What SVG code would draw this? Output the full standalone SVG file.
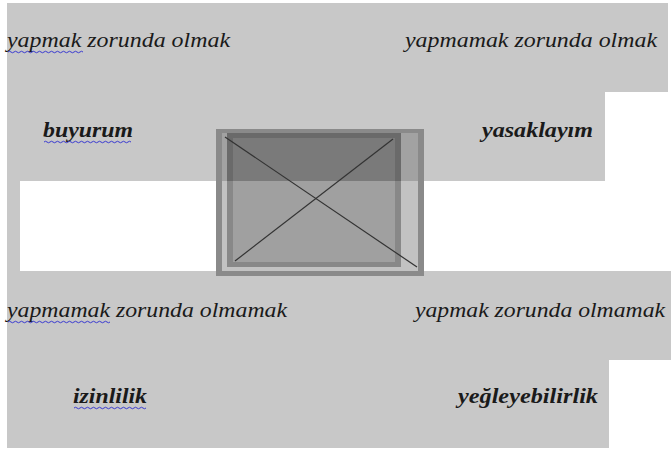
<svg xmlns="http://www.w3.org/2000/svg" width="671" height="451" viewBox="0 0 671 451">
<style>
.sq{fill:none;stroke:#3a3ad0;stroke-width:1}
</style>
<rect x="0" y="0" width="671" height="451" fill="#ffffff"/>
<path id="background" d="M7,3 H668 V92 H605 V181 H20 V271 H671 V360 H609 V448 H7 Z" fill="#c8c8c8"/>
<g id="image-placeholder">
  <rect x="216" y="129" width="208" height="147" fill="#8a8a8a"/>
  <rect x="222" y="133" width="196" height="48" fill="#a2a2a2"/>
  <rect x="222" y="181" width="196" height="90" fill="#c2c2c2"/>
  <rect x="227" y="133" width="174" height="48" fill="#6a6a6a"/>
  <rect x="227" y="181" width="174" height="86" fill="#888888"/>
  <rect x="233" y="138" width="162" height="43" fill="#7a7a7a"/>
  <rect x="233" y="181" width="162" height="81" fill="#a0a0a0"/>
  <line x1="225" y1="137" x2="417" y2="267" stroke="#333" stroke-width="1.2"/>
  <line x1="235" y1="261" x2="393" y2="139" stroke="#333" stroke-width="1.2"/>
</g>
<g id="connectors"></g>
<g font-family="Liberation Serif, serif" font-style="italic" fill="#1a1a1a">
<g font-size="22">
<g id="n1"><text x="7" y="47" textLength="223" lengthAdjust="spacingAndGlyphs">yapmak zorunda olmak</text></g>
<g id="n2"><text x="405" y="47" textLength="252" lengthAdjust="spacingAndGlyphs">yapmamak zorunda olmak</text></g>
<g id="n5"><text x="7" y="317" textLength="280" lengthAdjust="spacingAndGlyphs">yapmamak zorunda olmamak</text></g>
<g id="n6"><text x="415" y="317" textLength="250" lengthAdjust="spacingAndGlyphs">yapmak zorunda olmamak</text></g>
</g>
<g font-size="21" font-weight="bold">
<g id="n3"><text x="43" y="137" textLength="90" lengthAdjust="spacingAndGlyphs">buyurum</text></g>
<g id="n4"><text x="482" y="137" textLength="111" lengthAdjust="spacingAndGlyphs">yasaklayım</text></g>
<g id="n7"><text x="73" y="403" textLength="74" lengthAdjust="spacingAndGlyphs">izinlilik</text></g>
<g id="n8"><text x="458" y="403" textLength="140" lengthAdjust="spacingAndGlyphs">yeğleyebilirlik</text></g>
</g>
</g>
<g id="spellcheck-marks">
<path class="sq" d="M8,52 q1.5,-1.5 3,0 t3,0 t3,0 t3,0 t3,0 t3,0 t3,0 t3,0 t3,0 t3,0 t3,0 t3,0 t3,0 t3,0 t3,0 t3,0 t3,0 t3,0 t3,0 t3,0 t3,0 t3,0 t3,0 t3,0 t3,0"/>
<path class="sq" d="M44,142 q1.5,-1.5 3,0 t3,0 t3,0 t3,0 t3,0 t3,0 t3,0 t3,0 t3,0 t3,0 t3,0 t3,0 t3,0 t3,0 t3,0 t3,0 t3,0 t3,0 t3,0 t3,0 t3,0 t3,0 t3,0 t3,0 t3,0 t3,0 t3,0 t3,0 t3,0"/>
<path class="sq" d="M8,322 q1.5,-1.5 3,0 t3,0 t3,0 t3,0 t3,0 t3,0 t3,0 t3,0 t3,0 t3,0 t3,0 t3,0 t3,0 t3,0 t3,0 t3,0 t3,0 t3,0 t3,0 t3,0 t3,0 t3,0 t3,0 t3,0 t3,0 t3,0 t3,0 t3,0 t3,0 t3,0 t3,0 t3,0 t3,0 t3,0"/>
<path class="sq" d="M74,408 q1.5,-1.5 3,0 t3,0 t3,0 t3,0 t3,0 t3,0 t3,0 t3,0 t3,0 t3,0 t3,0 t3,0 t3,0 t3,0 t3,0 t3,0 t3,0 t3,0 t3,0 t3,0 t3,0 t3,0 t3,0 t3,0"/>
</g>
</svg>
